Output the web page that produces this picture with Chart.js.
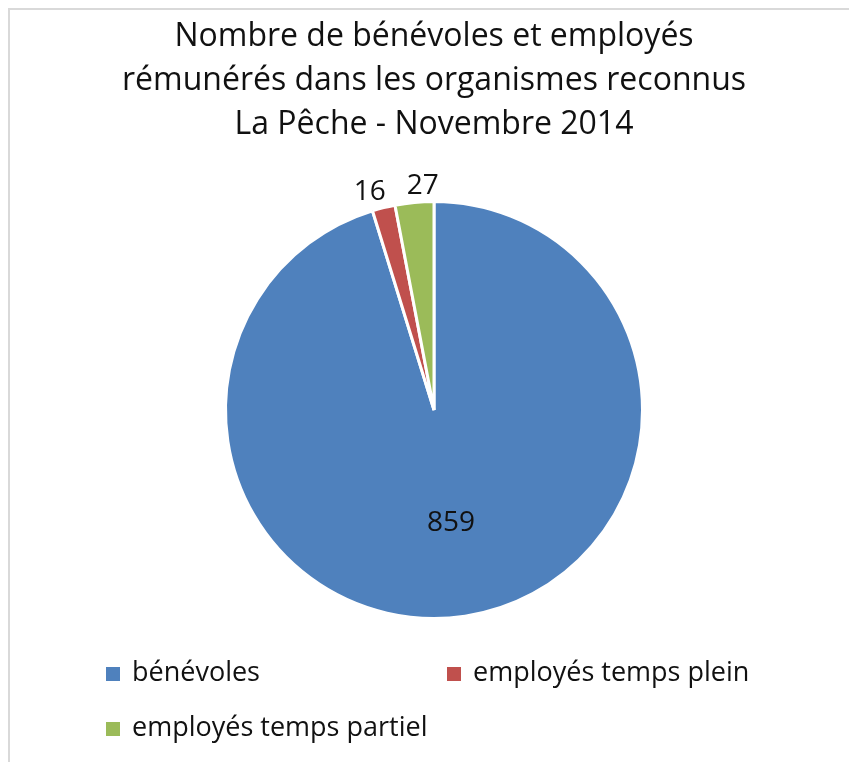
<!DOCTYPE html>
<html lang="fr">
<head>
<meta charset="utf-8">
<title>Bénévoles et employés - La Pêche</title>
<script src="https://cdn.jsdelivr.net/npm/chart.js@4"></script>
<style>
    html, body { margin: 0; padding: 0; background: #fff; }
    #box { position: relative; width: 849px; height: 762px; }
</style>
</head>
<body>
<div id="box"><canvas id="graph"></canvas></div>
<script>
// DONNÉES
const categories = ["bénévoles", "employés temps plein", "employés temps partiel"];
const valeurs = [859, 16, 27];
const couleurs = ["#4f81bd", "#c0504d", "#9bbb59"];
const titre = [
    "Nombre de bénévoles et employés",
    "rémunérés dans les organismes reconnus",
    "La Pêche - Novembre 2014",
];

const police = "'Open Sans', 'Noto Sans', sans-serif";
const texte = "#111";

// CADRE GRIS (haut et gauche)
const cadre = {
    id: "cadre",
    beforeDraw(chart) {
        const c = chart.ctx;
        c.save();
        c.strokeStyle = "#d9d9d9";
        c.lineWidth = 2;
        c.beginPath();
        c.moveTo(9, chart.height);
        c.lineTo(9, 9);
        c.lineTo(chart.width, 9);
        c.stroke();
        c.restore();
    },
};

// ÉTIQUETTES DE VALEURS
const etiquettes = {
    id: "etiquettes",
    afterDatasetsDraw(chart) {
        const c = chart.ctx;
        const meta = chart.getDatasetMeta(0);
        const total = valeurs.reduce((a, b) => a + b, 0);
        c.save();
        c.font = "28px " + police;
        c.fillStyle = texte;
        c.textAlign = "center";
        c.textBaseline = "middle";

        const pos = meta.data.map((arc, i) => {
            const p = arc.getProps(["x", "y", "startAngle", "endAngle", "outerRadius"], true);
            const mid = (p.startAngle + p.endAngle) / 2;
            const dedans = valeurs[i] / total > 0.2;
            const r = dedans ? p.outerRadius * 0.55 : p.outerRadius + 16;
            return {
                x: p.x + Math.cos(mid) * r,
                y: p.y + Math.sin(mid) * r,
                w: c.measureText(String(valeurs[i])).width,
                dedans,
            };
        });

        // écarter les étiquettes extérieures qui se touchent
        for (let i = 1; i < pos.length; i++) {
            const a = pos[i - 1];
            const b = pos[i];
            if (a.dedans || b.dedans) continue;
            const min = (a.w + b.w) / 2 + 21;
            const d = b.x - a.x;
            if (Math.abs(d) < min) {
                const s = d >= 0 ? 1 : -1;
                const manque = (min - Math.abs(d)) / 2;
                a.x -= s * manque;
                b.x += s * manque;
            }
        }

        pos.forEach((p, i) => c.fillText(String(valeurs[i]), p.x, p.y));
        c.restore();
    },
};

// LÉGENDE EN GRILLE (2 colonnes)
const legende = {
    id: "legende",
    afterDraw(chart) {
        const c = chart.ctx;
        const colX = [106, 447];
        const rowY = [674, 729];
        const carre = 14;
        c.save();
        c.font = "27px " + police;
        c.textBaseline = "middle";
        c.textAlign = "left";
        chart.data.labels.forEach((lab, i) => {
            const x = colX[i % 2];
            const y = rowY[Math.floor(i / 2)];
            c.fillStyle = chart.data.datasets[0].backgroundColor[i];
            c.fillRect(x, y - carre / 2, carre, carre);
            c.fillStyle = texte;
            c.fillText(lab, x + 26, y - 1);
        });
        c.restore();
    },
};

// CONSTRUIRE LE GRAPHIQUE
const ctx = document.getElementById("graph");
new Chart(ctx, {
    type: "pie",
    data: {
        labels: categories,
        datasets: [
            {
                data: valeurs,
                backgroundColor: couleurs,
                borderColor: "#fff",
                borderWidth: 3,
            },
        ],
    },
    options: {
        responsive: true,
        maintainAspectRatio: false,
        animation: false,
        layout: {
            padding: { top: 0, left: 19, right: 0, bottom: 142 },
        },
        plugins: {
            title: {
                display: true,
                text: titre,
                color: texte,
                font: {
                    size: 32,
                    family: police,
                    weight: "normal",
                    lineHeight: 1.375,
                },
                padding: { top: 15, bottom: 53 },
            },
            legend: {
                display: false,
            },
            tooltip: {
                enabled: false,
            },
        },
    },
    plugins: [cadre, etiquettes, legende],
});
</script>
</body>
</html>
